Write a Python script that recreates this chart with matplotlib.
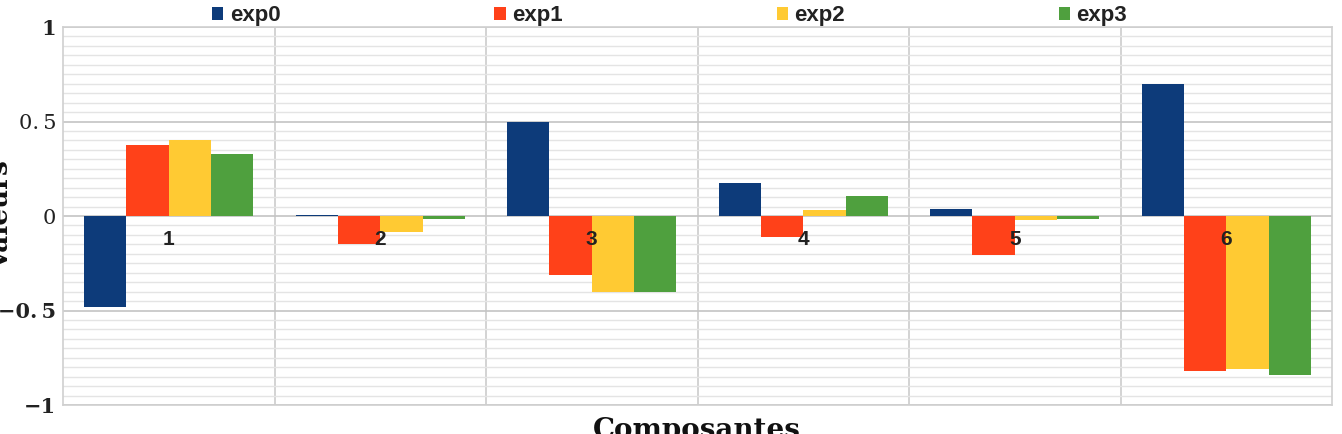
import matplotlib
matplotlib.use("Agg")
import matplotlib.pyplot as plt
import numpy as np
from matplotlib.ticker import MultipleLocator

categories = ["1", "2", "3", "4", "5", "6"]
series_names = ["exp0", "exp1", "exp2", "exp3"]
exp0 = [-0.48, 0.005, 0.495, 0.176, 0.035, 0.697]
exp1 = [0.375, -0.15, -0.314, -0.11, -0.205, -0.82]
exp2 = [0.40, -0.083, -0.40, 0.034, -0.023, -0.81]
exp3 = [0.33, -0.015, -0.40, 0.107, -0.018, -0.84]
yticks = [-1, -0.5, 0, 0.5, 1]
ytick_labels = ["\u22121", "\u22120.\u20095", "0", "0.\u20095", "1"]
colors = ["#0d3b7a", "#ff4119", "#ffca33", "#4fa03e"]

fig = plt.figure(figsize=(13.42, 4.34), dpi=100)
ax = fig.add_axes([63/1342, 1-405/434, (1332-63)/1342, (405-27)/434])

n = len(categories)
x = np.arange(n)
width = 0.2
data = [exp0, exp1, exp2, exp3]
handles = []
for i, (vals, c, name) in enumerate(zip(data, colors, series_names)):
    h = ax.bar(x - 0.3 + i*width, vals, width, color=c, label=name, zorder=3, linewidth=0)
    handles.append(h)

ax.set_xlim(-0.5, n-0.5)
ax.set_ylim(-1, 1)
ax.set_yticks(yticks)
ax.set_yticklabels(ytick_labels, family="DejaVu Serif", fontsize=15)
for lab, t in zip(ax.get_yticklabels(), yticks):
    if t in (1, -1, -0.5):
        lab.set_fontweight("bold")
ax.yaxis.set_minor_locator(MultipleLocator(0.05))
ax.tick_params(axis="y", which="both", length=0, pad=5, colors="#222222")
ax.tick_params(axis="x", length=0)
ax.set_xticks([])
ax.grid(axis="y", which="major", color="#c4c4c4", linewidth=1.2, zorder=0)
ax.grid(axis="y", which="minor", color="#e4e4e4", linewidth=1.0, zorder=0)
for b in np.arange(0.5, n-0.5, 1):
    ax.axvline(b, color="#cccccc", linewidth=1.2, zorder=1)
for s in ax.spines.values():
    s.set_color("#d0d0d0")
    s.set_linewidth(1.2)

for i, cat in enumerate(categories):
    ax.text(i, -0.072, cat, ha="center", va="top", fontsize=15, fontweight="bold",
            family="Liberation Sans", color="#222222", zorder=5)

leg = fig.legend(handles=handles, labels=series_names, loc="upper left",
                 bbox_to_anchor=(210/1342, 1 - 3/434), ncol=4, frameon=False,
                 prop={"family": "Liberation Sans", "weight": "bold", "size": 16},
                 handlelength=0.5, handleheight=0.5, handletextpad=0.3,
                 columnspacing=9.62, borderaxespad=0.0, borderpad=0.1)
for t in leg.get_texts():
    t.set_color("#222222")

fig.text(13/1342, 1-215/434, "Valeurs", family="DejaVu Serif", fontweight="bold",
         fontsize=19, rotation=90, ha="right", va="center", color="#111111")
fig.text((592+801)/2/1342, 1-417/434, "Composantes", family="DejaVu Serif", fontweight="bold",
         fontsize=20, ha="center", va="top", color="#111111")

fig.savefig("out.png", dpi=100)
